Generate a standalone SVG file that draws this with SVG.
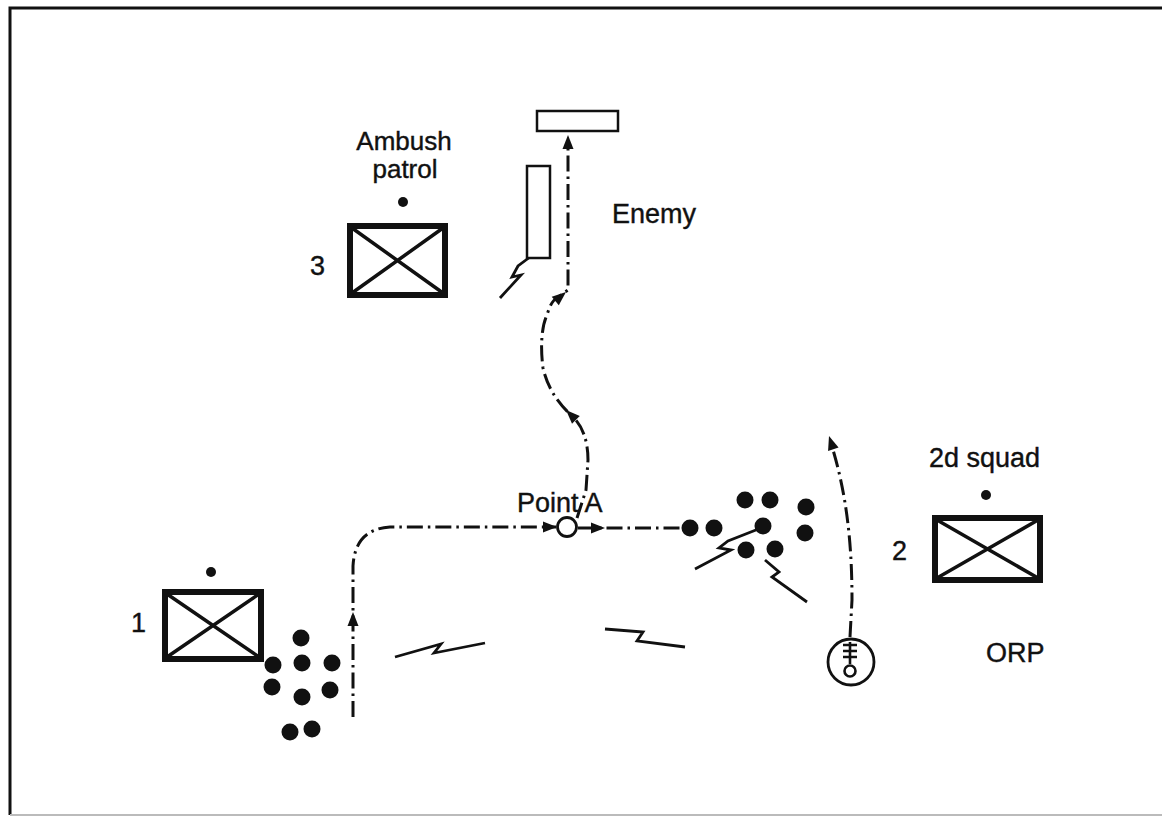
<svg xmlns="http://www.w3.org/2000/svg" xmlns:xlink="http://www.w3.org/1999/xlink" width="1162" height="817" viewBox="0 0 1162 817">
<style>
  text { font-family: "Liberation Sans", Arial, sans-serif; font-size: 27px; fill: #111; stroke: #111; stroke-width: 0.4; }
  .box { fill: #fff; stroke: #111; stroke-width: 6; }
  .x { stroke: #111; stroke-width: 3.5; fill: none; }
  .route { fill: none; stroke: #111; stroke-width: 3; stroke-dasharray: 16 5 2.5 5; }
  .bolt { fill: none; stroke: #111; stroke-width: 2.8; stroke-linejoin: miter; }
  .thin { fill: #fff; stroke: #111; stroke-width: 2.5; }
  .dot { fill: #111; }
</style>
<defs>
  <path id="ah" d="M0,0 L-14,-5.5 L-14,5.5 Z" fill="#111"/>
</defs>
<rect width="1162" height="817" fill="#fff"/>
<g id="frame">
  <path d="M10,815 L10,8 L1162,8" fill="none" stroke="#111" stroke-width="3"/>
  <path d="M10,815 L1162,815" fill="none" stroke="#bbb" stroke-width="2"/>
</g>

<g id="connectors">
  <path class="route" d="M353,717 L353,566 Q355,529 390,527 L556,527"/>
  <path class="route" d="M578,528 L685,528"/>
  <path class="route" d="M577,518 L586,490 L588,460 C588,440 582,425 572,416 C560,405 548,390 543,368 C540,345 542,325 547,315 C550,305 553,300 557,298 L568,290 L568,140"/>
  <path class="route" d="M850,637 L852,600 C852,540 846,490 830,440"/>
  <use xlink:href="#ah" transform="translate(568,135) rotate(-90)"/>
  <use xlink:href="#ah" transform="translate(566,292) rotate(-40)"/>
  <use xlink:href="#ah" transform="translate(566,410) rotate(-135)"/>
  <use xlink:href="#ah" transform="translate(353,612) rotate(-90)"/>
  <use xlink:href="#ah" transform="translate(557,527)"/>
  <use xlink:href="#ah" transform="translate(605,528)"/>
  <use xlink:href="#ah" transform="translate(829,436) rotate(-108)"/>
</g>

<g id="bolts">
  <path class="bolt" d="M530,257 L518,266 L512,277 L521,275 L500,298"/>
  <path class="bolt" d="M395,657 L441,644 L434,653 L485,643"/>
  <path class="bolt" d="M605,629 L643,632 L637,641 L685,647"/>
  <path class="bolt" d="M761,528 L728,541 L719,548 L731,550 L695,569"/>
  <path class="bolt" d="M765,560 L779,572 L772,577 L807,602"/>
</g>

<g id="enemy">
  <rect class="thin" x="537" y="111" width="81" height="20"/>
  <rect class="thin" x="527" y="166" width="23" height="92"/>
  <text x="612" y="223">Enemy</text>
</g>

<g id="ambush-patrol">
  <text x="404" y="150" text-anchor="middle" style="font-size:26px">Ambush</text>
  <text x="405" y="178" text-anchor="middle" style="font-size:26px">patrol</text>
  <circle class="dot" cx="403" cy="202" r="5"/>
  <rect class="box" x="350" y="226" width="95" height="69"/>
  <path class="x" d="M352,228 L443,293 M443,228 L352,293"/>
  <text x="310" y="275">3</text>
</g>

<g id="squad-1">
  <circle class="dot" cx="211" cy="572" r="5"/>
  <rect class="box" x="165" y="592" width="96" height="67"/>
  <path class="x" d="M167,594 L259,657 M259,594 L167,657"/>
  <text x="131" y="632">1</text>
  <g class="dot">
    <circle cx="273" cy="665" r="8.5"/>
    <circle cx="301" cy="638" r="8.5"/>
    <circle cx="302" cy="663" r="8.5"/>
    <circle cx="332" cy="663" r="8.5"/>
    <circle cx="272" cy="687" r="8.5"/>
    <circle cx="302" cy="697" r="8.5"/>
    <circle cx="330" cy="690" r="8.5"/>
    <circle cx="290" cy="732" r="8.5"/>
    <circle cx="312" cy="729" r="8.5"/>
  </g>
</g>

<g id="point-a">
  <text x="517" y="512">Point A</text>
  <circle cx="567" cy="527" r="9.5" fill="#fff" stroke="#111" stroke-width="2.8"/>
</g>

<g id="assault-dots" class="dot">
  <circle cx="690" cy="528" r="8.5"/>
  <circle cx="714" cy="528" r="8.5"/>
  <circle cx="745" cy="500" r="8.5"/>
  <circle cx="770" cy="500" r="8.5"/>
  <circle cx="763" cy="526" r="8.5"/>
  <circle cx="806" cy="507" r="8.5"/>
  <circle cx="805" cy="533" r="8.5"/>
  <circle cx="746" cy="550" r="8.5"/>
  <circle cx="775" cy="549" r="8.5"/>
</g>

<g id="squad-2">
  <text x="929" y="467">2d squad</text>
  <circle class="dot" cx="986" cy="495" r="5"/>
  <rect class="box" x="935" y="518" width="105" height="62"/>
  <path class="x" d="M937,520 L1038,578 M1038,520 L937,578"/>
  <text x="892" y="560">2</text>
</g>

<g id="orp">
  <circle cx="851" cy="662" r="23" fill="#fff" stroke="#111" stroke-width="2.8"/>
  <path d="M850,642 L850,664 M843,645 L857,645 M843,651 L857,651 M843,657 L857,657" stroke="#111" stroke-width="2.6" fill="none"/>
  <circle cx="850" cy="671" r="5.5" fill="#fff" stroke="#111" stroke-width="2.6"/>
  <text x="986" y="662">ORP</text>
</g>
</svg>
